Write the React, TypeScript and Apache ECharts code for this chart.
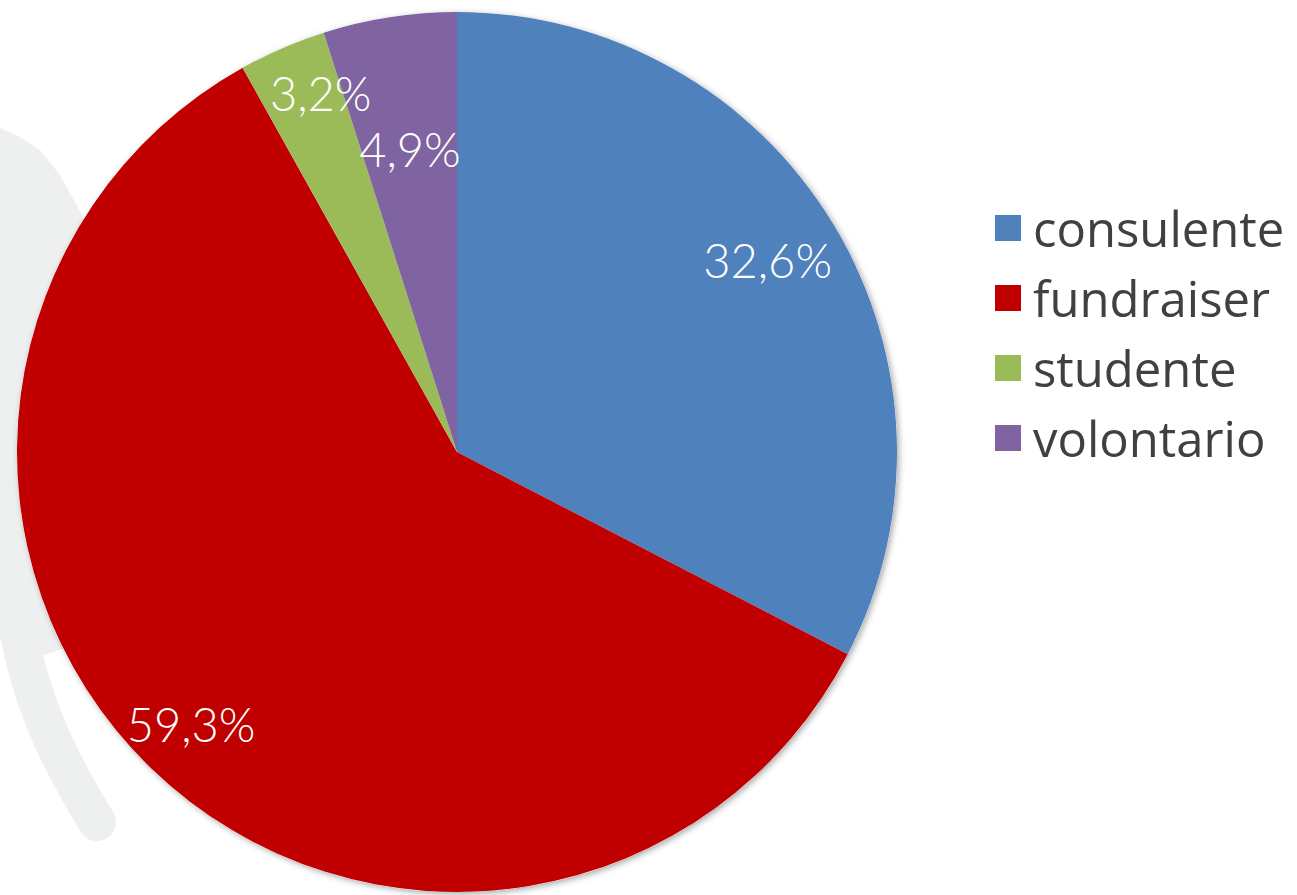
import React, { useEffect, useRef } from "react";
import * as echarts from "echarts";

const categories = ["consulente", "fundraiser", "studente", "volontario"];
const values = [32.6, 59.3, 3.2, 4.9];
const labelTexts = ["32,6%", "59,3%", "3,2%", "4,9%"];
const colors = ["#4f81bd", "#c00000", "#9bbb59", "#8064a2"];
// where each label sits, as a fraction of the radius, plus a small pixel nudge
const labelRadiusFraction = [0.825, 0.868, 0.865, 0.69];
const labelNudge = [
  [-2, -2],
  [2, -4],
  [16, -7],
  [0, 0],
];

const CX = 457;
const CY = 452;
const R = 440;

export default function App() {
  const ref = useRef<HTMLDivElement>(null);
  useEffect(() => {
    document.body.style.margin = "0";
    const chart = echarts.init(ref.current!, undefined, { renderer: "svg" });
    const total = values.reduce((a, b) => a + b, 0);
    let acc = 0;
    const data = values.map((v, i) => {
      const mid = ((acc + v / 2) / total) * Math.PI * 2;
      acc += v;
      const extra = R * labelRadiusFraction[i] - R / 2;
      return {
        name: categories[i],
        value: v,
        itemStyle: { color: colors[i] },
        label: {
          formatter: labelTexts[i],
          offset: [
            extra * Math.sin(mid) + labelNudge[i][0],
            -extra * Math.cos(mid) + labelNudge[i][1],
          ],
        },
      };
    });
    chart.setOption({
      animation: false,
      backgroundColor: "#ffffff",
      graphic: [
        {
          type: "polygon",
          z: 0,
          shape: {
            points: [
              [0, 128],
              [20, 137],
              [40, 150],
              [60, 175],
              [82, 215],
              [110, 250],
              [200, 400],
              [200, 600],
              [45, 655],
              [0, 640],
            ],
          },
          style: { fill: "#eef0f0" },
        },
        {
          type: "bezierCurve",
          z: 0,
          shape: {
            x1: 12,
            y1: 580,
            cpx1: 20,
            cpy1: 690,
            cpx2: 62,
            cpy2: 765,
            x2: 97,
            y2: 822,
          },
          style: {
            stroke: "#eef0f0",
            lineWidth: 38,
            lineCap: "round",
            fill: null,
          },
        },
        {
          type: "circle",
          z: 1,
          shape: { cx: CX, cy: CY, r: R },
          style: {
            fill: "#ffffff",
            shadowBlur: 6,
            shadowOffsetX: 2,
            shadowOffsetY: 2,
            shadowColor: "rgba(0,0,0,0.35)",
          },
        },
      ],
      legend: {
        orient: "vertical",
        left: 995,
        top: 203,
        padding: 0,
        itemWidth: 26,
        itemHeight: 26,
        itemGap: 20,
        icon: "rect",
        data: categories,
        textStyle: {
          fontFamily: "Open Sans",
          fontSize: 49,
          lineHeight: 50,
          color: "#404040",
          padding: [0, 0, 0, 7],
        },
      },
      series: [
        {
          type: "pie",
          center: [CX, CY],
          radius: [0, R],
          startAngle: 90,
          clockwise: true,
          avoidLabelOverlap: false,
          label: {
            show: true,
            position: "inside",
            color: "#ffffff",
            fontFamily: "Lato",
            fontWeight: 300,
            fontSize: 47,
          },
          labelLine: { show: false },
          itemStyle: { borderWidth: 0 },
          emphasis: { disabled: true },
          data,
        },
      ],
    });
    return () => chart.dispose();
  }, []);
  return <div ref={ref} style={{ width: 1297, height: 895 }} />;
}
